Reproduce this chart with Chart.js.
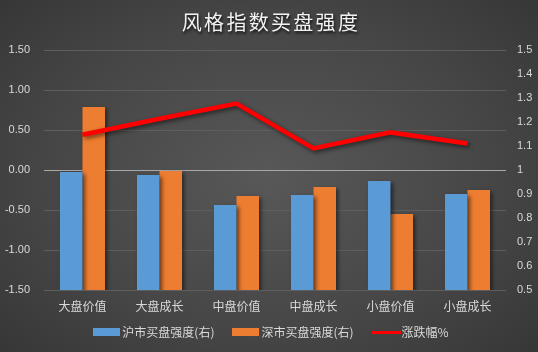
<!DOCTYPE html>
<html><head><meta charset="utf-8">
<script src="https://cdn.jsdelivr.net/npm/chart.js@4.4.1/dist/chart.umd.min.js"></script>
<style>
html,body{margin:0;padding:0;}
#wrap{position:relative;width:538px;height:352px;overflow:hidden;
 background:radial-gradient(ellipse 75% 80% at 50% 50%, #585858 0%, #464646 55%, #333 100%);
 font-family:"Liberation Sans","Noto Sans CJK SC",sans-serif;}
#title{position:absolute;left:2px;top:8px;width:538px;text-align:center;color:#f2f2f2;
 font-family:"Noto Sans CJK SC",sans-serif;font-size:20px;letter-spacing:2.3px;line-height:28px;
 text-shadow:1px 2px 3px rgba(0,0,0,0.8);}
#legend{position:absolute;left:2px;top:324px;width:538px;display:flex;justify-content:center;align-items:center;
 color:#d9d9d9;font-family:"Noto Sans CJK SC",sans-serif;font-size:12px;line-height:16px;}
.item{display:flex;align-items:center;margin:0 9px;}
.box{width:27px;height:8px;margin-right:2px;}
.ln{width:29px;height:3px;margin-right:1px;background:#ff0000;}
canvas{position:absolute;left:0;top:0;}
</style></head>
<body><div id="wrap">
<canvas id="c" width="538" height="352"></canvas>
<div id="title">风格指数买盘强度</div>
<div id="legend">
 <div class="item"><div class="box" style="background:#5b9bd5"></div><span id="l0"></span></div>
 <div class="item"><div class="box" style="background:#ed7d31"></div><span id="l1"></span></div>
 <div class="item"><div class="ln"></div><span id="l2"></span></div>
</div>
</div>
<script>
const categories = ['大盘价值','大盘成长','中盘价值','中盘成长','小盘价值','小盘成长'];
const seriesNames = ['沪市买盘强度(右)','深市买盘强度(右)','涨跌幅%'];
const shBuy = [0.992, 0.979, 0.854, 0.896, 0.954, 0.900];
const szBuy = [1.263, 0.996, 0.892, 0.929, 0.817, 0.917];
const change = [0.44, 0.64, 0.83, 0.27, 0.47, 0.33];
const leftTicks = [-1.5, -1.0, -0.5, 0, 0.5, 1.0, 1.5];
const rightTicks = [0.5,0.6,0.7,0.8,0.9,1.0,1.1,1.2,1.3,1.4,1.5];

seriesNames.forEach((n,i)=>document.getElementById('l'+i).textContent=n);

const shadowPlugin = {
  id:'shadow',
  beforeDatasetDraw(chart,args){
    const ctx=chart.ctx; ctx.save();
    ctx.shadowColor='rgba(0,0,0,0.55)';
    ctx.shadowBlur=4; ctx.shadowOffsetX=2; ctx.shadowOffsetY=2;
  },
  afterDatasetDraw(chart){ chart.ctx.restore(); }
};

const tickFont = {family:'"Liberation Sans","Noto Sans CJK SC",sans-serif', size:11};

new Chart(document.getElementById('c'), {
  data:{
    labels:categories,
    datasets:[
      {type:'line',label:seriesNames[2],data:change,yAxisID:'yL',borderColor:'#ff0000',backgroundColor:'#ff0000',
       borderWidth:4.5,pointRadius:0,tension:0,order:0},
      {type:'bar',label:seriesNames[0],data:shBuy,yAxisID:'yR',backgroundColor:'#5b9bd5',
       categoryPercentage:0.585,barPercentage:1,order:1},
      {type:'bar',label:seriesNames[1],data:szBuy,yAxisID:'yR',backgroundColor:'#ed7d31',
       categoryPercentage:0.585,barPercentage:1,order:1}
    ]
  },
  options:{
    responsive:false,animation:false,
    layout:{padding:{top:50,left:0,right:0,bottom:0}},
    plugins:{legend:{display:false},title:{display:false},tooltip:{enabled:false}},
    scales:{
      x:{grid:{display:false},border:{display:false},
         ticks:{color:'#d9d9d9',font:{family:'"Noto Sans CJK SC",sans-serif',size:12},padding:1,maxRotation:0},
         afterFit(s){s.height=62;}},
      yL:{position:'left',min:-1.5,max:1.5,
         afterBuildTicks(s){s.ticks=leftTicks.map(v=>({value:v}));},
         ticks:{color:'#d9d9d9',font:tickFont,padding:14,callback:v=>v.toFixed(2)},
         grid:{color:c=>c.tick&&c.tick.value===0?'#a8a8a8':'#5e5e5e',lineWidth:1,drawTicks:false},
         border:{display:false},
         afterFit(s){s.width=44;}},
      yR:{position:'right',min:0.5,max:1.5,
         afterBuildTicks(s){s.ticks=rightTicks.map(v=>({value:v}));},
         ticks:{color:'#d9d9d9',font:tickFont,padding:11,callback:v=>String(Number(v.toFixed(1)))},
         grid:{display:false,drawTicks:false},border:{display:false},
         afterFit(s){s.width=32;}}
    }
  },
  plugins:[shadowPlugin]
});
</script>
</body></html>
